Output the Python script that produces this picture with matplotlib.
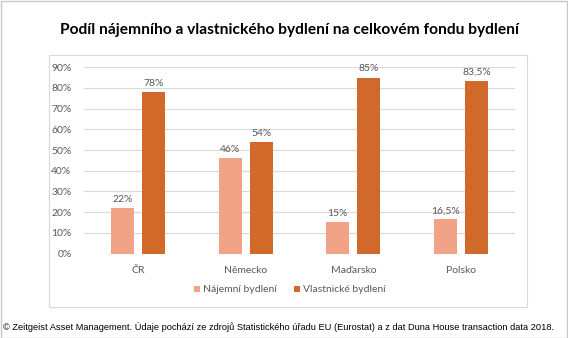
import numpy as np
import matplotlib.pyplot as plt
from matplotlib.patches import Rectangle

plt.rcParams['font.family'] = ['Lato', 'DejaVu Sans']

# ==============================================
#    Data
# ==============================================
countries = ['ČR', 'Německo', 'Maďarsko', 'Polsko']
rent = [22, 46, 15, 16.5]       # nájemní bydlení [%]
owner = [78, 54, 85, 83.5]      # vlastnické bydlení [%]
rent_labels = ['22%', '46%', '15%', '16,5%']
owner_labels = ['78%', '54%', '85%', '83,5%']
yticks = [0, 10, 20, 30, 40, 50, 60, 70, 80, 90]

c_rent = '#F0A386'
c_owner = '#D0692A'
c_text = '#595959'

W, H = 568, 338
fig = plt.figure(figsize=(W/100, H/100), dpi=100)

# outer frame and chart box
fig.patches.append(Rectangle((0.5/W, 0.5/H), 1 - 1.5/W, 1 - 1.5/H, transform=fig.transFigure,
                             fill=False, edgecolor='#C8C8C8', linewidth=1.0))
fig.patches.append(Rectangle((49/W, 1 - 307/H), (527-49)/W, (307-55)/H, transform=fig.transFigure,
                             fill=False, edgecolor='#D9D9D9', linewidth=0.8))

ax = fig.add_axes([84/W, 1 - 253.5/H, (515-84)/W, (253.5-67.3)/H])

x = np.arange(len(countries))
w = 0.213
off = 0.144
b1 = ax.bar(x - off, rent, w, color=c_rent, label='Nájemní bydlení', zorder=3)
b2 = ax.bar(x + off, owner, w, color=c_owner, label='Vlastnické bydlení', zorder=3)
ax.bar_label(b1, labels=rent_labels, padding=3, fontsize=7.5, color=c_text)
ax.bar_label(b2, labels=owner_labels, padding=3, fontsize=7.5, color=c_text)

ax.set_xlim(-0.5, len(countries) - 0.5)
ax.set_ylim(0, 90)
ax.set_yticks(yticks)
ax.set_yticklabels([f'{v}%' for v in yticks])
ax.set_xticks(x)
ax.set_xticklabels(countries)
ax.tick_params(axis='both', length=0, labelsize=7.5, labelcolor=c_text)
ax.tick_params(axis='x', pad=9)
ax.tick_params(axis='y', pad=9)
ax.grid(axis='y', color='#D9D9D9', linewidth=0.8, zorder=0)
for s in ax.spines.values():
    s.set_visible(False)

ax.legend(loc='center', bbox_to_anchor=(290/W, 1 - 290/H), bbox_transform=fig.transFigure,
          ncol=2, frameon=False, fontsize=7.5, labelcolor=c_text, handlelength=0.6,
          handleheight=0.6, handletextpad=0.3, columnspacing=1.6)

fig.text(290/W, 1 - 30/H, 'Podíl nájemního a vlastnického bydlení na celkovém fondu bydlení',
         ha='center', va='center', fontsize=11.2, fontweight='bold', color='black')

fig.text(3/W, 1 - 327/H, '© Zeitgeist Asset Management. Údaje pochází ze zdrojů Statistického úřadu EU '
         '(Eurostat) a z dat Duna House transaction data 2018.',
         ha='left', va='center', fontsize=6.7, color='black',
         family=['Liberation Sans Narrow', 'Liberation Sans', 'DejaVu Sans'])

plt.savefig('out.png', dpi=100)
